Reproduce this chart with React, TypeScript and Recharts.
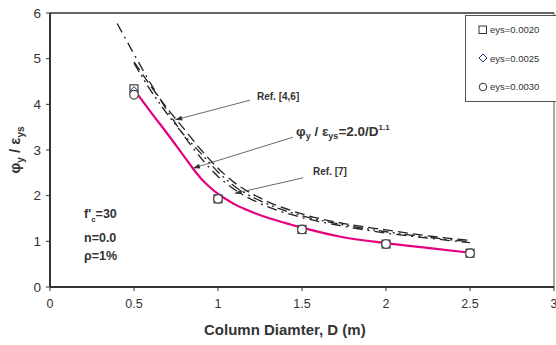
import React from "react";
import {
  ComposedChart,
  Line,
  Scatter,
  XAxis,
  YAxis,
  ReferenceLine,
} from "recharts";

// measured points (three yield strains)
const diameters = [0.5, 1.0, 1.5, 2.0, 2.5];
const eys0020 = [4.34, 1.93, 1.26, 0.94, 0.74];
const eys0025 = [4.29, 1.93, 1.26, 0.94, 0.74];
const eys0030 = [4.21, 1.93, 1.26, 0.94, 0.74];

// proposed curve (magenta)
const fitD = [0.525, 0.6, 0.7, 0.8, 0.85, 0.9, 0.95, 1.0, 1.05, 1.1, 1.17, 1.31, 1.43, 1.5, 1.73, 2.0, 2.26, 2.5];
const fitV = [4.2, 3.83, 3.35, 2.85, 2.6, 2.37, 2.19, 2.04, 1.92, 1.81, 1.69, 1.5, 1.37, 1.3, 1.1, 0.96, 0.85, 0.75];

// reference curves
const refAD = [0.4, 0.5, 0.6, 0.7, 0.8, 0.9, 1.0, 1.1, 1.25, 1.5, 1.75, 2.0, 2.25, 2.5];
const refAV = [5.77, 5.1, 4.45, 3.85, 3.3, 2.82, 2.42, 2.13, 1.83, 1.52, 1.33, 1.18, 1.07, 0.97];
const refBD = [0.5, 0.6, 0.7, 0.8, 0.9, 1.0, 1.1, 1.25, 1.5, 1.75, 2.0, 2.25, 2.5];
const refBV = [4.93, 4.4, 3.9, 3.45, 3.0, 2.6, 2.28, 1.95, 1.6, 1.39, 1.25, 1.12, 1.02];
const refCV = [4.9, 4.3, 3.78, 3.32, 2.92, 2.52, 2.2, 1.89, 1.56, 1.36, 1.21, 1.09, 0.99];

const xTicks = [0, 0.5, 1, 1.5, 2, 2.5, 3];
const yTicks = [0, 1, 2, 3, 4, 5, 6];

const legendLabels = ["eys=0.0020", "eys=0.0025", "eys=0.0030"];

const zip = (xs: number[], ys: number[]) => xs.map((x, i) => ({ x, y: ys[i] }));

const FONT = "Arial, 'Liberation Sans', sans-serif";
const INK = "#333";

const Square = (p: any) => (
  <rect x={p.cx - 4} y={p.cy - 4} width={8} height={8} fill="#fff" stroke="#444" strokeWidth={1.2} />
);
const Diamond = (p: any) => (
  <polygon
    points={`${p.cx},${p.cy - 4.5} ${p.cx + 4},${p.cy} ${p.cx},${p.cy + 4.5} ${p.cx - 4},${p.cy}`}
    fill="#fff"
    stroke="#223377"
    strokeWidth={1}
  />
);
const Circle = (p: any) => <circle cx={p.cx} cy={p.cy} r={4.3} fill="#fff" stroke="#444" strokeWidth={1.2} />;

const Arrow = (p: any) => {
  const { x1, y1, x2, y2 } = p;
  const a = Math.atan2(y2 - y1, x2 - x1);
  const L = 7;
  const W = 2.5;
  const bx = x2 - L * Math.cos(a);
  const by = y2 - L * Math.sin(a);
  const px = -Math.sin(a) * W;
  const py = Math.cos(a) * W;
  return (
    <g>
      <line x1={x1} y1={y1} x2={x2} y2={y2} stroke="#444" strokeWidth={0.8} />
      <polygon points={`${x2},${y2} ${bx + px},${by + py} ${bx - px},${by - py}`} fill="#333" />
    </g>
  );
};

const txt: React.CSSProperties = {
  position: "absolute",
  fontFamily: FONT,
  fontWeight: "bold",
  color: INK,
  whiteSpace: "nowrap",
  lineHeight: 1,
};

export default function App() {
  return (
    <div style={{ position: "absolute", left: 0, top: 0, width: 556, height: 345, overflow: "hidden", background: "#fff" }}>
      <ComposedChart width={556} height={345} margin={{ top: 13, right: 2, bottom: 0, left: 0 }}>
        <XAxis
          type="number"
          dataKey="x"
          domain={[0, 3]}
          ticks={xTicks}
          allowDuplicatedCategory={false}
          tick={{ fill: INK, fontSize: 12.5, fontFamily: FONT, dy: 6 }}
          tickLine={{ stroke: INK }}
          tickSize={4}
          axisLine={{ stroke: INK, strokeWidth: 2 }}
          height={58}
          interval={0}
        />
        <YAxis
          type="number"
          domain={[0, 6]}
          ticks={yTicks}
          tick={{ fill: INK, fontSize: 13.5, fontFamily: FONT, dx: -3 }}
          tickLine={{ stroke: INK }}
          tickSize={4}
          axisLine={{ stroke: INK, strokeWidth: 2 }}
          width={50}
        />
        <ReferenceLine y={6} stroke={INK} strokeWidth={1.5} />
        <ReferenceLine x={3} stroke="#555" strokeWidth={1} />

        <Line data={zip(refAD, refAV)} dataKey="y" type="monotone" stroke="#222" strokeWidth={1.3}
          strokeDasharray="10 5 2 5" dot={false} isAnimationActive={false} />
        <Line data={zip(refBD, refBV)} dataKey="y" type="monotone" stroke="#222" strokeWidth={1.3}
          strokeDasharray="10 5" dot={false} isAnimationActive={false} />
        <Line data={zip(refBD, refCV)} dataKey="y" type="monotone" stroke="#222" strokeWidth={1.3}
          strokeDasharray="10 4 2 4 2 4" dot={false} isAnimationActive={false} />
        <Line data={zip(fitD, fitV)} dataKey="y" type="monotone" stroke="#e6007e" strokeWidth={2.2}
          dot={false} isAnimationActive={false} />

        <ReferenceLine segment={[{ x: 1.19, y: 4.09 }, { x: 0.745, y: 3.66 }]} shape={Arrow} />
        <ReferenceLine segment={[{ x: 1.446, y: 3.28 }, { x: 0.851, y: 2.6 }]} shape={Arrow} />
        <ReferenceLine segment={[{ x: 1.506, y: 2.39 }, { x: 1.1, y: 2.05 }]} shape={Arrow} />

        <Scatter data={zip(diameters, eys0020)} dataKey="y" shape={Square} isAnimationActive={false} />
        <Scatter data={zip(diameters, eys0025)} dataKey="y" shape={Diamond} isAnimationActive={false} />
        <Scatter data={zip(diameters, eys0030)} dataKey="y" shape={Circle} isAnimationActive={false} />
      </ComposedChart>

      {/* annotations */}
      <div style={{ ...txt, left: 257, top: 92, fontSize: 10 }}>Ref. [4,6]</div>
      <div style={{ ...txt, left: 313, top: 167, fontSize: 10 }}>Ref. [7]</div>
      <div style={{ ...txt, left: 296, top: 124, fontSize: 13.5 }}>
        φ<sub style={{ fontSize: 9 }}>y</sub> / ε<sub style={{ fontSize: 9 }}>ys</sub>=2.0/D
        <sup style={{ fontSize: 8 }}>1.1</sup>
      </div>
      <div style={{ ...txt, left: 84, top: 205, fontSize: 12.5, lineHeight: "18px" }}>
        <div>f'<sub style={{ fontSize: 8 }}>c</sub>=30</div>
        <div>n=0.0</div>
        <div>ρ=1%</div>
      </div>

      {/* axis titles */}
      <div style={{ ...txt, left: 204, top: 322, fontSize: 15 }}>Column Diamter, D (m)</div>
      <div
        style={{
          ...txt,
          left: 16,
          top: 150,
          fontSize: 15,
          transform: "translate(-50%, -50%) rotate(-90deg)",
        }}
      >
        φ<sub style={{ fontSize: 10 }}>y</sub> / ε<sub style={{ fontSize: 10 }}>ys</sub>
      </div>

      {/* legend */}
      <div
        style={{
          position: "absolute",
          left: 465,
          top: 15,
          width: 100,
          height: 85,
          border: "1px solid #555",
          background: "#fff",
          fontFamily: FONT,
          fontSize: 9.5,
          color: INK,
        }}
      >
        {legendLabels.map((lab, i) => (
          <div key={lab} style={{ position: "absolute", left: 12, top: 8 + i * 28.5, display: "flex", alignItems: "center" }}>
            <svg width={10} height={10} style={{ marginRight: 2 }}>
              {i === 0 && <rect x={1} y={1} width={7.5} height={7.5} fill="#fff" stroke="#333" />}
              {i === 1 && <polygon points="5,1 9,5 5,9 1,5" fill="#fff" stroke="#223377" />}
              {i === 2 && <circle cx={5} cy={5} r={3.8} fill="#fff" stroke="#333" />}
            </svg>
            {lab}
          </div>
        ))}
      </div>
    </div>
  );
}
